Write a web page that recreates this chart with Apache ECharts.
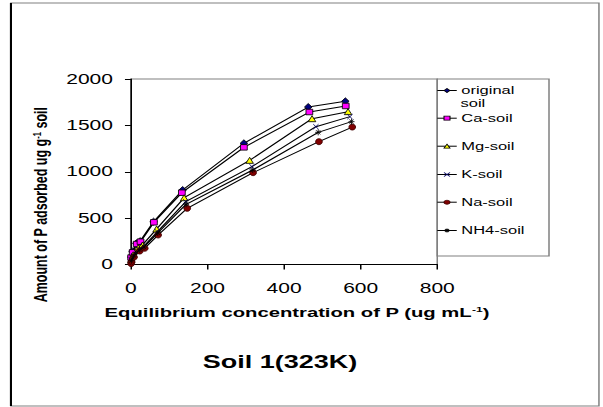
<!DOCTYPE html>
<html><head><meta charset="utf-8">
<script src="https://cdn.jsdelivr.net/npm/echarts@6/dist/echarts.min.js"></script>
<style>
html,body{margin:0;padding:0;background:#fff;overflow:hidden;width:603px;height:407px}
#c{position:absolute;left:0;top:0;width:402px;height:407px;transform:scaleX(1.5);transform-origin:0 0}
</style>
</head><body><div id="c"></div>
<script>
// ---- data ----
const seriesNames = ['original soil', 'Ca-soil', 'Mg-soil', 'K-soil', 'Na-soil', 'NH4-soil'];
const originalX = [0.5, 4, 14, 24, 59, 135, 295, 463, 560];
const originalY = [80, 140, 228, 252, 462, 803, 1307, 1698, 1759];
const caX = [0.5, 4.5, 15, 25, 60, 133, 295, 466, 561];
const caY = [75, 131, 221, 246, 455, 774, 1263, 1644, 1709];
const mgX = [1, 6, 19, 30, 67, 139, 310, 473, 567];
const mgY = [55, 105, 180, 210, 383, 720, 1123, 1572, 1648];
const kX = [1, 7, 21, 33, 69, 143, 316, 483, 572];
const kY = [45, 95, 165, 195, 354, 677, 1055, 1486, 1594];
const naX = [0.5, 1.5, 8, 23, 36, 71, 147, 319, 491, 578];
const naY = [10, 30, 80, 145, 175, 318, 606, 990, 1324, 1482];
const nh4X = [1, 7, 22, 34, 70, 144, 318, 489, 576];
const nh4Y = [40, 90, 158, 188, 340, 649, 1019, 1425, 1540];
const xTicks = [0, 200, 400, 600, 800];
const yTicks = [0, 500, 1000, 1500, 2000];
const chartTitle = 'Soil 1(323K)';
const xName = 'Equilibrium concentration of P (ug mL{sup|-1})';
const yName = 'Amount of P adsorbed ug g{sup|-1} soil';

const FONT = 'Liberation Sans, Arial, sans-serif';
const pairs = (xs, ys) => xs.map((x, i) => [x, ys[i]]);

const markers = [
  {symbol: 'diamond', size: [5, 7], color: '#000080', border: '#000000'},
  {symbol: 'rect', size: [4.5, 5.5], color: '#ff00ff', border: '#000000'},
  {symbol: 'triangle', size: [5, 6], color: '#ffff00', border: '#000000'},
  {symbol: 'path://M0,0L10,10M10,0L0,10', size: [3.5, 5], color: '#000060', border: '#000060'},
  {symbol: 'circle', size: [4.5, 6], color: '#800000', border: '#400000'},
  {symbol: 'path://M5,0L5,10M0,5L10,5M1.5,1.5L8.5,8.5M8.5,1.5L1.5,8.5', size: [4, 6], color: '#000000', border: '#000000'}
];
const dataSets = [pairs(originalX, originalY), pairs(caX, caY), pairs(mgX, mgY), pairs(kX, kY), pairs(naX, naY), pairs(nh4X, nh4Y)];

const series = seriesNames.map((n, i) => ({
  name: n, type: 'line', data: dataSets[i],
  symbol: markers[i].symbol, symbolSize: markers[i].size, showSymbol: true,
  lineStyle: {color: '#000000', width: 1},
  itemStyle: {color: markers[i].color, borderColor: markers[i].border, borderWidth: 0.7},
  emphasis: {disabled: true}, z: 2 + i
}));

const legendCY = [90, 117.7, 145.7, 174, 201.7, 230];
const legends = seriesNames.map((n, i) => ({
  data: [n], left: 291, top: legendCY[i] - 5, orient: 'vertical', padding: 0,
  itemWidth: 13, itemHeight: 5, itemGap: 0, selectedMode: false, z: 6,
  lineStyle: {color: '#000000', width: 1, opacity: 1},
  itemStyle: {borderWidth: 0.7, borderColor: markers[i].border},
  formatter: (nm) => nm === 'original soil' ? 'original' : nm,
  textStyle: {fontFamily: FONT, fontSize: 11, color: '#000', padding: [0, 0, 0, -2]}
}));

const chart = echarts.init(document.getElementById('c'), null, {renderer: 'svg'});
chart.setOption({
  animation: false,
  backgroundColor: '#ffffff',
  title: {text: chartTitle, left: 186.7, top: 353, textAlign: 'center', padding: 0,
    textStyle: {fontFamily: FONT, fontSize: 18, fontWeight: 'bold', color: '#000'}},
  grid: {left: 87.3, top: 79, width: 204.2, height: 185.5, show: true, borderColor: '#808080', borderWidth: 1, backgroundColor: 'transparent'},
  xAxis: {
    type: 'value', min: xTicks[0], max: xTicks[xTicks.length - 1], interval: xTicks[1] - xTicks[0],
    name: xName, nameLocation: 'middle', nameGap: 41,
    nameTextStyle: {fontFamily: FONT, fontSize: 13.5, fontWeight: 'bold', color: '#000', padding: [0, 0, 0, 17],
      rich: {sup: {fontFamily: FONT, fontSize: 8, fontWeight: 'bold', color: '#000', verticalAlign: 'top'}}},
    axisLine: {show: true, lineStyle: {color: '#000', width: 1}},
    axisTick: {show: true, length: 5, lineStyle: {color: '#000'}},
    splitLine: {show: false},
    axisLabel: {fontFamily: FONT, fontSize: 14, color: '#000', margin: 17, formatter: (v) => String(v)}
  },
  yAxis: {
    type: 'value', min: yTicks[0], max: yTicks[yTicks.length - 1], interval: yTicks[1] - yTicks[0],
    name: yName, nameLocation: 'middle', nameGap: 39,
    nameTextStyle: {fontFamily: FONT, fontSize: 12.5, fontWeight: 'bold', color: '#000', padding: [0, 66, 0, 0],
      rich: {sup: {fontFamily: FONT, fontSize: 7.5, fontWeight: 'bold', color: '#000', verticalAlign: 'top'}}},
    axisLine: {show: true, lineStyle: {color: '#000', width: 1}},
    axisTick: {show: true, length: 4, lineStyle: {color: '#000'}},
    splitLine: {show: false},
    axisLabel: {fontFamily: FONT, fontSize: 14, color: '#000', margin: 12, formatter: (v) => String(v)}
  },
  legend: legends,
  graphic: [
    {type: 'rect', shape: {x: 7.3, y: 3, width: 392, height: 403}, style: {fill: 'none', stroke: '#808080', lineWidth: 1}, z: 0, silent: true},
    {type: 'line', shape: {x1: 7.3, y1: 3, x2: 7.3, y2: 406}, style: {stroke: '#000', lineWidth: 1.4}, z: 0, silent: true},
    {type: 'rect', shape: {x: 291.5, y: 79, width: 74.5, height: 177}, style: {fill: '#fff', stroke: '#808080', lineWidth: 1}, z: 5, silent: true},
    {type: 'text', x: 307, y: 103, style: {text: 'soil', fontFamily: FONT, fontSize: 11, fill: '#000', verticalAlign: 'middle'}, z: 7, silent: true}
  ],
  series: series
});
</script>
</body></html>
